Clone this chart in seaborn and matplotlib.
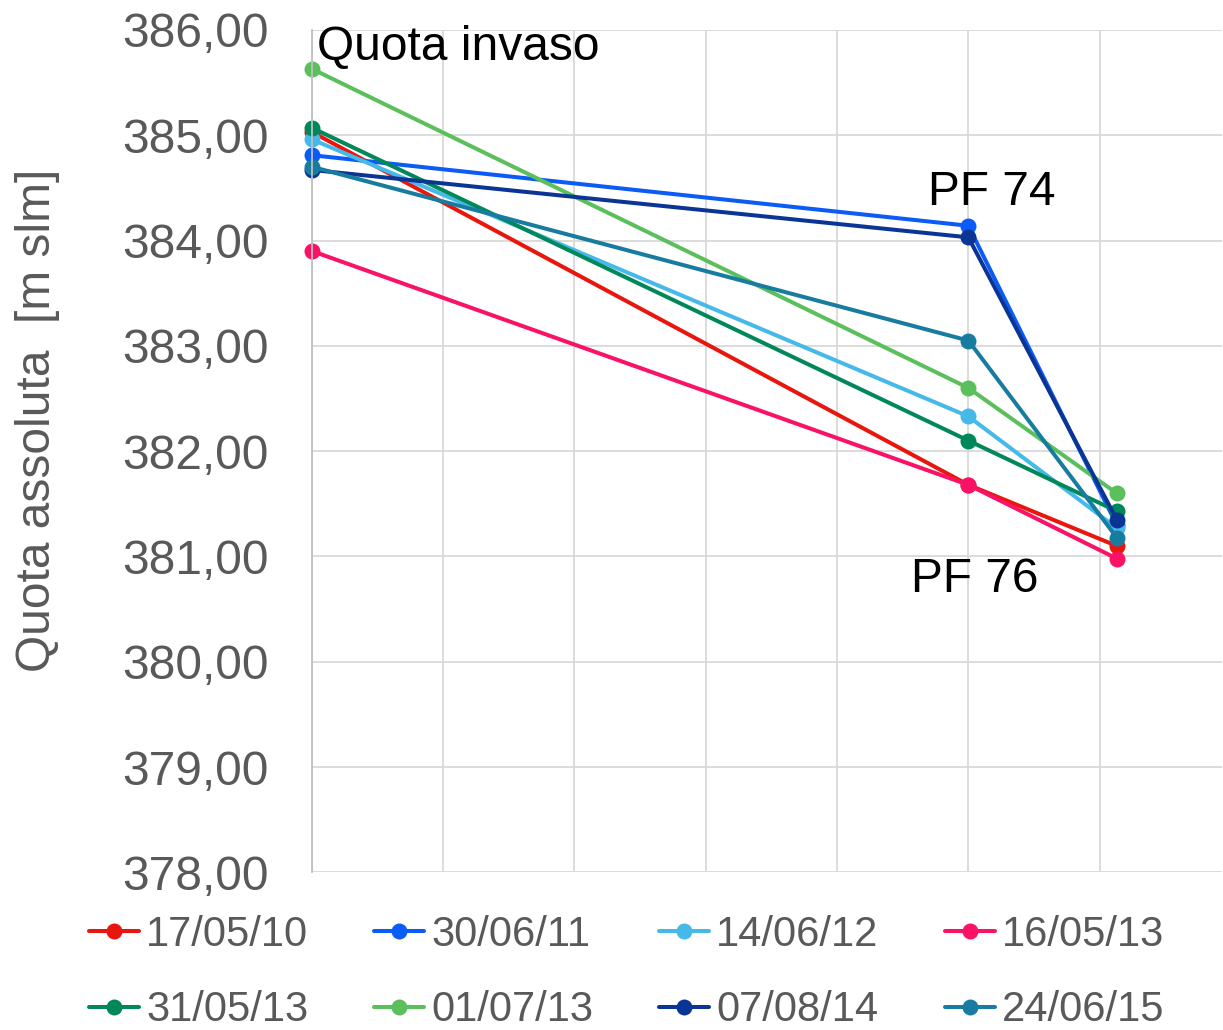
import pandas as pd
import numpy as np
import matplotlib.pyplot as plt
import seaborn as sns

# Dati: distanza (posizione sull'asse x) e quote per ogni rilievo
posizioni = [0, 5, 6.13]
date = ['17/05/10', '30/06/11', '14/06/12', '16/05/13',
        '31/05/13', '01/07/13', '07/08/14', '24/06/15']
q_170510 = [385.03, 381.68, 381.10]
q_300611 = [384.81, 384.14, 381.30]
q_140612 = [384.96, 382.33, 381.27]
q_160513 = [383.90, 381.68, 380.98]
q_310513 = [385.07, 382.10, 381.43]
q_010713 = [385.63, 382.60, 381.60]
q_070814 = [384.67, 384.03, 381.35]
q_240615 = [384.70, 383.05, 381.18]
colori = ['#E8160C', '#0B5BF7', '#45B9E8', '#FA1266',
          '#00875A', '#5BBF5B', '#0B3595', '#177CA0']

serie = [q_170510, q_300611, q_140612, q_160513, q_310513, q_010713, q_070814, q_240615]
righe = []
for d, q in zip(date, serie):
    for x, v in zip(posizioni, q):
        righe.append({'x': x, 'quota': v, 'data': d})
df = pd.DataFrame(righe)

sns.set_style('white')
plt.rcParams['font.family'] = ['Liberation Sans', 'DejaVu Sans']

fig = plt.figure(figsize=(12.23, 10.30), dpi=100)
ax = fig.add_axes([0.255, 0.153, 0.744, 0.818])

sns.lineplot(data=df, x='x', y='quota', hue='data', hue_order=date,
             palette=dict(zip(date, colori)), marker='o', markersize=11.5,
             markeredgewidth=0, linewidth=2.9, ax=ax, sort=False)
for l in ax.lines:
    l.set_clip_on(False)

ax.set_xlim(0, 6.93)
ax.set_ylim(378, 386)
ax.set_xticks(np.arange(0, 7, 1))
ax.set_xticklabels([])
ax.set_yticks(np.arange(378, 387, 1))
ax.set_yticklabels([f'{v:.2f}'.replace('.', ',') for v in range(378, 387)],
                   fontsize=34.5, color='#595959')
ax.tick_params(axis='y', length=0, pad=31)
ax.tick_params(axis='x', length=0)
ax.grid(True, color='#D9D9D9', linewidth=1.3)
for s in ['top', 'right', 'bottom']:
    ax.spines[s].set_visible(False)
ax.spines['left'].set_color('#BFBFBF')
ax.spines['left'].set_linewidth(1.3)
ax.set_xlabel('')
ax.set_ylabel('Quota assoluta  [m slm]', fontsize=34.5, color='#595959')
ax.yaxis.set_label_coords(-0.277, 0.537)

ax.text(0.04, 385.83, 'Quota invaso', fontsize=34.5, color='black', va='center', ha='left')
ax.text(5.18, 384.46, 'PF 74', fontsize=34.5, color='black', va='center', ha='center')
ax.text(5.05, 380.78, 'PF 76', fontsize=34.5, color='black', va='center', ha='center')

# legenda per righe (matplotlib riempie per colonne)
handles, labels = ax.get_legend_handles_labels()
ax.get_legend().remove()
ordine = [0, 4, 1, 5, 2, 6, 3, 7]
fig.legend([handles[i] for i in ordine], [labels[i] for i in ordine],
           loc='upper left', ncol=4, bbox_to_anchor=(0.073, 0.112),
           frameon=False, borderpad=0, borderaxespad=0, fontsize=30,
           labelcolor='#595959', handlelength=1.2,
           handletextpad=0.17, columnspacing=1.58, labelspacing=0.86)

fig.savefig('out.png', dpi=100)
